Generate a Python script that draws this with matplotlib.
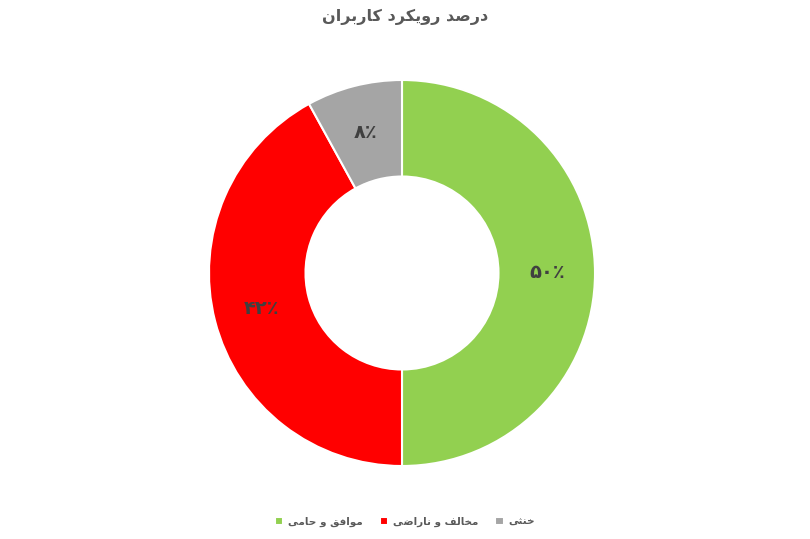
import matplotlib
matplotlib.use("Agg")
import matplotlib.pyplot as plt

title = "درصد رویکرد کاربران"
categories = ["موافق و حامی", "مخالف و ناراضی", "خنثی"]
values = [50, 42, 8]
colors = ["#92D050", "#FF0000", "#A5A5A5"]

# matplotlib does no Arabic shaping, so pick the joined forms by hand
# (isolated, final, initial, medial); two-form letters only join to the right
FORMS = {
    "ا": ("\uFE8D", "\uFE8E"),
    "ب": ("\uFE8F", "\uFE90", "\uFE91", "\uFE92"),
    "ث": ("\uFE99", "\uFE9A", "\uFE9B", "\uFE9C"),
    "ح": ("\uFEA1", "\uFEA2", "\uFEA3", "\uFEA4"),
    "خ": ("\uFEA5", "\uFEA6", "\uFEA7", "\uFEA8"),
    "د": ("\uFEA9", "\uFEAA"),
    "ر": ("\uFEAD", "\uFEAE"),
    "ص": ("\uFEB9", "\uFEBA", "\uFEBB", "\uFEBC"),
    "ض": ("\uFEBD", "\uFEBE", "\uFEBF", "\uFEC0"),
    "ف": ("\uFED1", "\uFED2", "\uFED3", "\uFED4"),
    "ق": ("\uFED5", "\uFED6", "\uFED7", "\uFED8"),
    "ل": ("\uFEDD", "\uFEDE", "\uFEDF", "\uFEE0"),
    "م": ("\uFEE1", "\uFEE2", "\uFEE3", "\uFEE4"),
    "ن": ("\uFEE5", "\uFEE6", "\uFEE7", "\uFEE8"),
    "و": ("\uFEED", "\uFEEE"),
    "ی": ("\uFBFC", "\uFBFD", "\uFBFE", "\uFBFF"),
    "ک": ("\uFB8E", "\uFB8F", "\uFB90", "\uFB91"),
}


def fa(text):
    out = []
    for i, ch in enumerate(text):
        if ch not in FORMS:
            out.append(ch)
            continue
        prev = text[i - 1] if i > 0 else ""
        nxt = text[i + 1] if i + 1 < len(text) else ""
        join_prev = prev in FORMS and len(FORMS[prev]) == 4
        join_next = nxt in FORMS and len(FORMS[ch]) == 4
        f = FORMS[ch]
        if join_prev and join_next:
            out.append(f[3])
        elif join_prev:
            out.append(f[1])
        elif join_next:
            out.append(f[2])
        else:
            out.append(f[0])
    return "".join(reversed(out))


def fa_pct(p):
    digits = str(int(round(p))).translate(str.maketrans("0123456789", "۰۱۲۳۴۵۶۷۸۹"))
    return digits + "٪"


plt.rcParams["font.family"] = ["DejaVu Sans"]

fig = plt.figure(figsize=(8.1, 5.39), dpi=100)
ax = fig.add_axes([209 / 810, 73 / 539, 386 / 810, 386 / 539])

wedges, texts, autotexts = ax.pie(
    values, colors=colors, startangle=90, counterclock=False,
    autopct=fa_pct, pctdistance=0.75,
    wedgeprops=dict(width=0.5, edgecolor="white", linewidth=1.5),
    textprops=dict(color="#404040", fontsize=14, fontweight="bold"),
)
ax.set_xlim(-1, 1)
ax.set_ylim(-1, 1)
ax.set_aspect("equal")

fig.text(0.5, 1 - 17 / 539, fa(title), ha="center", va="center",
         fontsize=11.5, fontweight="bold", color="#595959")

fig.legend(wedges, [fa(c) for c in categories], loc="center",
           bbox_to_anchor=(0.5, 1 - 522 / 539), ncol=3, frameon=False,
           handlelength=0.8, handleheight=0.8, handletextpad=0.5,
           columnspacing=1.6, prop=dict(size=7.5, weight="bold"),
           labelcolor="#595959")

fig.savefig("out.png", dpi=100)
